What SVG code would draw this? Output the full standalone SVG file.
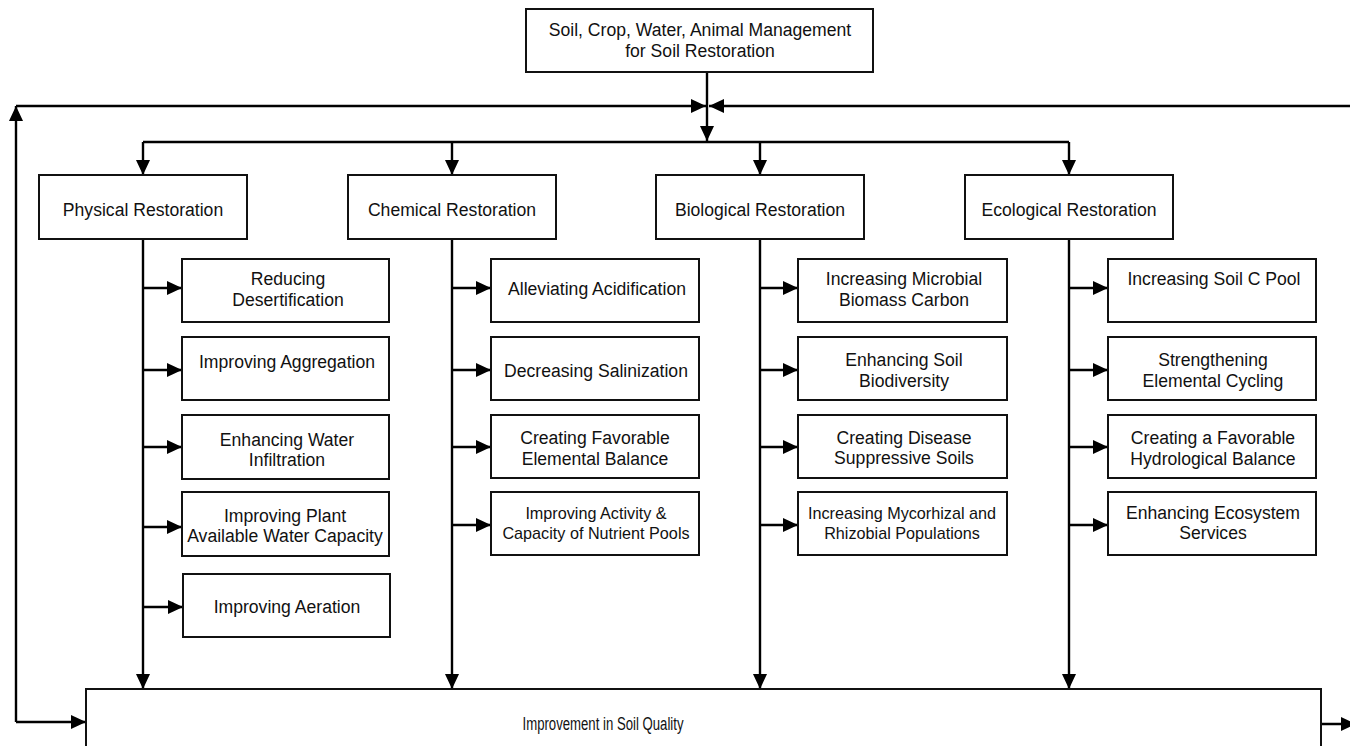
<svg xmlns="http://www.w3.org/2000/svg" width="1350" height="746" viewBox="0 0 1350 746">
<style>
.box{fill:#fff;stroke:#111;stroke-width:2}
.ln{fill:none;stroke:#000;stroke-width:2.4}
.t{font-family:"Liberation Sans",Arial,sans-serif;font-size:17.6px;fill:#111;text-anchor:middle}
.s{font-size:16.2px}
</style>
<defs>
<marker id="ah" markerUnits="userSpaceOnUse" markerWidth="16" markerHeight="14" refX="15" refY="7" orient="auto">
<path d="M0,0 L15,7 L0,14 z" fill="#000"/>
</marker>
</defs>
<rect width="1350" height="746" fill="#fff"/>

<g id="connectors">
<!-- top -->
<path class="ln" d="M707,72 V141" marker-end="url(#ah)"/>
<path class="ln" d="M16,106 H706" marker-end="url(#ah)"/>
<path class="ln" d="M1352,106 H709" marker-end="url(#ah)"/>
<path class="ln" d="M16,722 V106" marker-end="url(#ah)"/>
<path class="ln" d="M16,722 H86" marker-end="url(#ah)"/>
<path class="ln" d="M1321,724 H1356" marker-end="url(#ah)"/>
<!-- bus -->
<path class="ln" d="M143,142 H1069"/>
<path class="ln" d="M143,142 V175" marker-end="url(#ah)"/>
<path class="ln" d="M452,142 V175" marker-end="url(#ah)"/>
<path class="ln" d="M760,142 V175" marker-end="url(#ah)"/>
<path class="ln" d="M1069,142 V175" marker-end="url(#ah)"/>
<!-- column verticals -->
<path class="ln" d="M143,239 V689" marker-end="url(#ah)"/>
<path class="ln" d="M452,239 V689" marker-end="url(#ah)"/>
<path class="ln" d="M760,239 V689" marker-end="url(#ah)"/>
<path class="ln" d="M1069,239 V689" marker-end="url(#ah)"/>
<!-- physical branches -->
<path class="ln" d="M143,288 H182" marker-end="url(#ah)"/>
<path class="ln" d="M143,370 H182" marker-end="url(#ah)"/>
<path class="ln" d="M143,447 H182" marker-end="url(#ah)"/>
<path class="ln" d="M143,527 H182" marker-end="url(#ah)"/>
<path class="ln" d="M143,607 H183" marker-end="url(#ah)"/>
<!-- chemical branches -->
<path class="ln" d="M452,288 H491" marker-end="url(#ah)"/>
<path class="ln" d="M452,370 H491" marker-end="url(#ah)"/>
<path class="ln" d="M452,447 H491" marker-end="url(#ah)"/>
<path class="ln" d="M452,525 H491" marker-end="url(#ah)"/>
<!-- biological branches -->
<path class="ln" d="M760,288 H798" marker-end="url(#ah)"/>
<path class="ln" d="M760,370 H798" marker-end="url(#ah)"/>
<path class="ln" d="M760,447 H798" marker-end="url(#ah)"/>
<path class="ln" d="M760,525 H798" marker-end="url(#ah)"/>
<!-- ecological branches -->
<path class="ln" d="M1069,288 H1108" marker-end="url(#ah)"/>
<path class="ln" d="M1069,370 H1108" marker-end="url(#ah)"/>
<path class="ln" d="M1069,447 H1108" marker-end="url(#ah)"/>
<path class="ln" d="M1069,525 H1108" marker-end="url(#ah)"/>
</g>

<g id="top">
<rect class="box" x="526" y="9" width="347" height="63"/>
<text class="t" x="700" y="36">Soil, Crop, Water, Animal Management</text>
<text class="t" x="700" y="57">for Soil Restoration</text>
</g>

<g id="physical">
<rect class="box" x="39" y="175" width="208" height="64"/>
<text class="t" x="143" y="216">Physical Restoration</text>
</g>
<g id="chemical">
<rect class="box" x="348" y="175" width="208" height="64"/>
<text class="t" x="452" y="216">Chemical Restoration</text>
</g>
<g id="biological">
<rect class="box" x="656" y="175" width="208" height="64"/>
<text class="t" x="760" y="216">Biological Restoration</text>
</g>
<g id="ecological">
<rect class="box" x="965" y="175" width="208" height="64"/>
<text class="t" x="1069" y="216">Ecological Restoration</text>
</g>

<g id="p1"><rect class="box" x="182" y="259" width="207" height="63"/>
<text class="t" x="288" y="285">Reducing</text><text class="t" x="288" y="306">Desertification</text></g>
<g id="p2"><rect class="box" x="182" y="337" width="207" height="63"/>
<text class="t" x="287" y="368">Improving Aggregation</text></g>
<g id="p3"><rect class="box" x="182" y="415" width="207" height="64"/>
<text class="t" x="287" y="446">Enhancing Water</text><text class="t" x="287" y="466">Infiltration</text></g>
<g id="p4"><rect class="box" x="182" y="492" width="207" height="64"/>
<text class="t" x="285" y="522">Improving Plant</text><text class="t" x="285" y="542">Available Water Capacity</text></g>
<g id="p5"><rect class="box" x="183" y="574" width="207" height="63"/>
<text class="t" x="287" y="613">Improving Aeration</text></g>

<g id="c1"><rect class="box" x="491" y="259" width="208" height="63"/>
<text class="t" x="597" y="295">Alleviating Acidification</text></g>
<g id="c2"><rect class="box" x="491" y="337" width="208" height="63"/>
<text class="t" x="596" y="377">Decreasing Salinization</text></g>
<g id="c3"><rect class="box" x="491" y="415" width="208" height="63"/>
<text class="t" x="595" y="444">Creating Favorable</text><text class="t" x="595" y="465">Elemental Balance</text></g>
<g id="c4"><rect class="box" x="491" y="492" width="208" height="63"/>
<text class="t s" x="596" y="519">Improving Activity &amp;</text><text class="t s" x="596" y="539">Capacity of Nutrient Pools</text></g>

<g id="b1"><rect class="box" x="798" y="259" width="209" height="63"/>
<text class="t" x="904" y="285">Increasing Microbial</text><text class="t" x="904" y="306">Biomass Carbon</text></g>
<g id="b2"><rect class="box" x="798" y="337" width="209" height="63"/>
<text class="t" x="904" y="366">Enhancing Soil</text><text class="t" x="904" y="387">Biodiversity</text></g>
<g id="b3"><rect class="box" x="798" y="415" width="209" height="63"/>
<text class="t" x="904" y="444">Creating Disease</text><text class="t" x="904" y="464">Suppressive Soils</text></g>
<g id="b4"><rect class="box" x="798" y="492" width="209" height="63"/>
<text class="t s" x="902" y="519">Increasing Mycorhizal and</text><text class="t s" x="902" y="539">Rhizobial Populations</text></g>

<g id="e1"><rect class="box" x="1108" y="259" width="208" height="63"/>
<text class="t" x="1214" y="285">Increasing Soil C Pool</text></g>
<g id="e2"><rect class="box" x="1108" y="337" width="208" height="63"/>
<text class="t" x="1213" y="366">Strengthening</text><text class="t" x="1213" y="387">Elemental Cycling</text></g>
<g id="e3"><rect class="box" x="1108" y="415" width="208" height="63"/>
<text class="t" x="1213" y="444">Creating a Favorable</text><text class="t" x="1213" y="465">Hydrological Balance</text></g>
<g id="e4"><rect class="box" x="1108" y="492" width="208" height="63"/>
<text class="t" x="1213" y="519">Enhancing Ecosystem</text><text class="t" x="1213" y="539">Services</text></g>

<g id="bottom">
<rect class="box" x="86" y="689" width="1235" height="80"/>
<text class="t" x="603" y="730" textLength="161" lengthAdjust="spacingAndGlyphs">Improvement in Soil Quality</text>
</g>
</svg>
